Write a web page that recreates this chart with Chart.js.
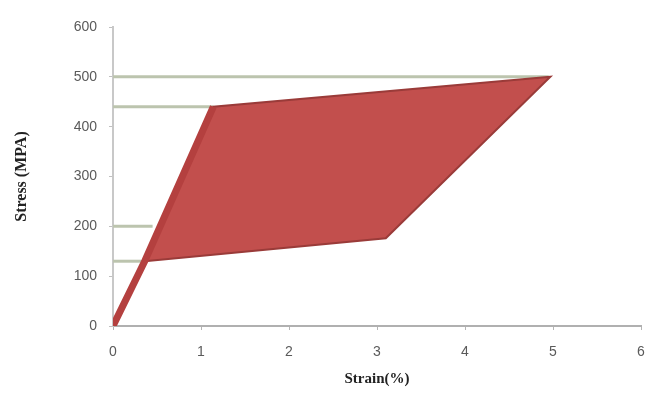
<!DOCTYPE html>
<html>
<head>
<meta charset="utf-8">
<script src="https://cdn.jsdelivr.net/npm/chart.js@4/dist/chart.umd.min.js"></script>
<style>
  html, body { margin: 0; padding: 0; background: #ffffff; }
  #wrap { width: 647px; height: 414px; position: relative; }
</style>
</head>
<body>
<div id="wrap"><canvas id="c" width="647" height="414"></canvas></div>
<script>
// Polygon (stress-strain region) vertices, in order
const polyStrain = [0.36, 1.14, 4.97, 3.10, 0.36];
const polyStress = [130, 440, 500, 176, 130];
// Thick initial elastic band
const bandStrain = [0.0, 0.36, 1.14];
const bandStress = [0, 130, 440];
// Horizontal reference levels and their end strains
const refStress = [500, 440, 200, 130];
const refEndStrain = [4.95, 1.14, 0.45, 0.36];
// Tick labels
const xTicks = [0, 1, 2, 3, 4, 5, 6];
const yTicks = [0, 100, 200, 300, 400, 500, 600];

const toPts = (xs, ys) => xs.map((x, i) => ({ x: x, y: ys[i] }));

const refSets = refStress.map((s, i) => ({
  type: 'line',
  data: [{ x: 0, y: s }, { x: refEndStrain[i], y: s }],
  borderColor: '#bcc4ae',
  borderWidth: 3,
  pointRadius: 0,
  fill: false,
  order: 3
}));

new Chart(document.getElementById('c'), {
  type: 'scatter',
  data: {
    datasets: [
      ...refSets,
      {
        type: 'line',
        data: toPts(polyStrain, polyStress),
        borderColor: '#9a3b39',
        backgroundColor: '#c24f4d',
        borderWidth: 2,
        pointRadius: 0,
        fill: 'shape',
        tension: 0,
        order: 2
      },
      {
        type: 'line',
        data: toPts(bandStrain, bandStress),
        borderColor: '#b4403f',
        borderWidth: 7,
        pointRadius: 0,
        fill: false,
        tension: 0,
        order: 1
      }
    ]
  },
  options: {
    responsive: false,
    animation: false,
    devicePixelRatio: 1,
    layout: { padding: { top: 27, right: 0, left: 0, bottom: 0 } },
    plugins: { legend: { display: false }, tooltip: { enabled: false } },
    scales: {
      x: {
        type: 'linear',
        min: 0, max: 6,
        afterBuildTicks: (s) => { s.ticks = xTicks.map(v => ({ value: v })); },
        afterFit: (s) => { s.height = 88; s.paddingRight = 6; },
        grid: { drawOnChartArea: false, drawTicks: true, tickLength: 4, color: '#b5b5b5' },
        border: { color: '#b0b0b0', width: 2 },
        ticks: { color: '#5a5a5a', font: { family: 'Liberation Sans', size: 14 }, padding: 14 },
        title: {
          display: true, text: 'Strain(%)', color: '#222',
          font: { family: 'Liberation Serif', size: 15, weight: 'bold' },
          padding: { top: 4, bottom: 26 }
        }
      },
      y: {
        type: 'linear',
        min: 0, max: 600,
        afterBuildTicks: (s) => { s.ticks = yTicks.map(v => ({ value: v })); },
        afterFit: (s) => { s.width = 113; },
        grid: { drawOnChartArea: false, drawTicks: true, tickLength: 4, color: '#c0c0c0' },
        border: { color: '#c8c8c8', width: 2 },
        ticks: { color: '#5a5a5a', font: { family: 'Liberation Sans', size: 14 }, padding: 12 },
        title: {
          display: true, text: 'Stress (MPA)', color: '#222',
          font: { family: 'Liberation Serif', size: 16, weight: 'bold' },
          padding: { top: 12, bottom: 10 }
        }
      }
    }
  }
});
</script>
</body>
</html>
